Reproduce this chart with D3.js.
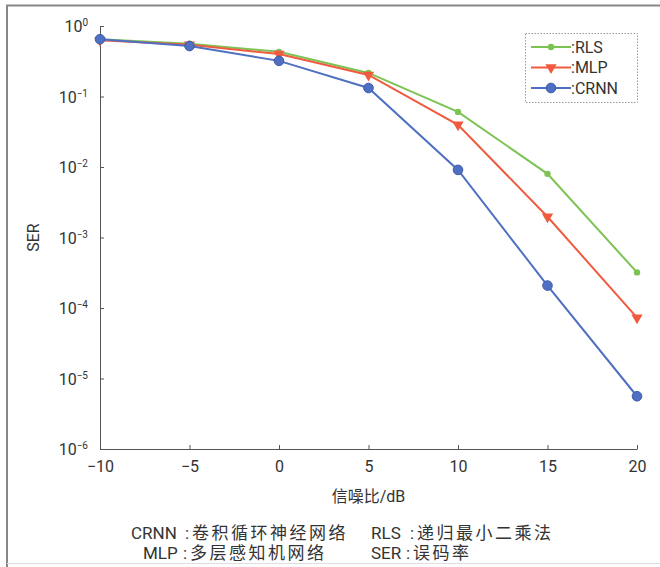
<!DOCTYPE html>
<html>
<head>
<meta charset="utf-8">
<script src="https://cdn.jsdelivr.net/npm/d3@7/dist/d3.min.js"></script>
<style>
  body { margin: 0; background: #fff; }
  svg text { font-family: Roboto, "Noto Sans CJK SC", sans-serif; fill: #333; }
</style>
</head>
<body>
<script>
//chart data
var snr = [-10, -5, 0, 5, 10, 15, 20];
var serRLS = [0.65, 0.56, 0.43, 0.216, 0.0605, 0.0080, 0.00032];
var serMLP = [0.63, 0.54, 0.40, 0.202, 0.0396, 0.00197, 0.000073];
var serCRNN = [0.65, 0.52, 0.32, 0.132, 0.0091, 0.000208, 0.0000056];
var seriesNames = ["RLS", "MLP", "CRNN"];
var xTicks = [-10, -5, 0, 5, 10, 15, 20];
var yExponents = [0, -1, -2, -3, -4, -5, -6];
var captionLines = [
    [["CRNN", "卷积循环神经网络"], ["RLS", "递归最小二乘法"]],
    [["MLP", "多层感知机网络"], ["SER", "误码率"]]
];

(function(){
    var width = 660, height = 567;
    var colors = {RLS: "#7cc353", MLP: "#f05a3f", CRNN: "#4f70c2"};
    var values = {RLS: serRLS, MLP: serMLP, CRNN: serCRNN};

    var svg = d3.select("body").append("svg")
        .attr("width", width)
        .attr("height", height);

    //outer frame
    svg.append("path")
        .attr("d", "M7,567V5.5H660")
        .attr("fill", "none")
        .attr("stroke", "#888")
        .attr("stroke-width", 2);
    svg.append("line")
        .attr("x1", 7).attr("x2", 660)
        .attr("y1", 563.5).attr("y2", 563.5)
        .attr("stroke", "#ddd");

    var x = d3.scaleLinear().domain([-10, 20]).range([100, 637]);
    var y = d3.scaleLog().domain([1e-6, 1]).range([449, 26]);

    //x axis
    var gx = svg.append("g")
        .attr("transform", "translate(0," + y(1e-6) + ")")
        .call(d3.axisBottom(x).tickValues(xTicks).tickSize(-4).tickSizeOuter(0)
            .tickFormat(function(d){ return d < 0 ? "\u2212" + Math.abs(d) : d; }));
    gx.selectAll("text").attr("y", 12).attr("dy", "0.71em").style("font-size", "16px").attr("fill", "#333");

    //y axis
    var gy = svg.append("g")
        .attr("transform", "translate(" + x(-10) + ",0)")
        .call(d3.axisLeft(y).tickValues(yExponents.map(function(e){ return Math.pow(10, e); }))
            .tickSize(-4).tickSizeOuter(0).tickFormat(function(){ return ""; }));
    gy.selectAll(".tick text").remove();
    gy.selectAll(".tick").each(function(d){
        var t = d3.select(this).append("text")
            .attr("x", -12)
            .attr("dy", "0.35em")
            .attr("text-anchor", "end")
            .style("font-size", "16px");
        t.append("tspan").text("10");
        t.append("tspan").attr("dy", "-0.6em").style("font-size", "10px")
            .text(String(Math.round(Math.log10(d))).replace("-", "\u2212"));
    });
    svg.selectAll(".domain, .tick line").attr("stroke", "#555");

    //axis titles
    svg.append("text")
        .attr("x", (x(-10) + x(20)) / 2)
        .attr("y", 502)
        .attr("text-anchor", "middle")
        .style("font-size", "16px")
        .text("信噪比/dB");
    svg.append("text")
        .attr("transform", "translate(39," + y(1e-3) + ") rotate(-90)")
        .attr("text-anchor", "middle")
        .style("font-size", "16px")
        .text("SER");

    //lines and markers
    var line = d3.line()
        .x(function(d, i){ return x(snr[i]); })
        .y(function(d){ return y(d); });

    function drawMarker(g, name, cx, cy){
        if (name === "RLS"){
            g.append("circle").attr("cx", cx).attr("cy", cy).attr("r", 3.2)
                .attr("fill", colors[name]);
        } else if (name === "MLP"){
            g.append("path")
                .attr("d", d3.symbol().type(d3.symbolTriangle).size(55))
                .attr("transform", "translate(" + cx + "," + cy + ") rotate(180)")
                .attr("fill", colors[name]);
        } else {
            g.append("circle").attr("cx", cx).attr("cy", cy).attr("r", 4.8)
                .attr("fill", colors[name]).attr("stroke", "#3c5aa8").attr("stroke-width", 1);
        }
    }

    seriesNames.forEach(function(name){
        var g = svg.append("g").attr("class", "series " + name);
        g.append("path")
            .datum(values[name])
            .attr("d", line)
            .attr("fill", "none")
            .attr("stroke", colors[name])
            .attr("stroke-width", 2);
        values[name].forEach(function(v, i){
            drawMarker(g, name, x(snr[i]), y(v));
        });
    });

    //legend
    var legend = svg.append("g");
    legend.append("rect")
        .attr("x", 525.5).attr("y", 33.5)
        .attr("width", 112).attr("height", 69)
        .attr("fill", "#fff")
        .attr("stroke", "#999")
        .attr("stroke-dasharray", "1.5,1.5");
    seriesNames.forEach(function(name, i){
        var ly = 47 + i * 20.5;
        legend.append("line")
            .attr("x1", 531).attr("x2", 571)
            .attr("y1", ly).attr("y2", ly)
            .attr("stroke", colors[name]).attr("stroke-width", 2);
        drawMarker(legend, name, 551, ly);
        legend.append("text")
            .attr("x", 571).attr("y", ly).attr("dy", "0.35em")
            .style("font-size", "16px")
            .text(":" + name);
    });

    //caption: [abbrev x, colon x, chinese x] per cell
    var captionPos = [
        [[131, 185, 192], [371, 410, 417]],
        [[143, 183, 190], [371, 406, 413]]
    ];
    captionLines.forEach(function(row, r){
        var cy = 533 + r * 20;
        row.forEach(function(item, c){
            var p = captionPos[r][c];
            svg.append("text")
                .attr("x", p[0]).attr("y", cy).attr("dy", "0.35em")
                .style("font-size", "17px")
                .text(item[0]);
            svg.append("text")
                .attr("x", p[1]).attr("y", cy).attr("dy", "0.35em")
                .style("font-size", "17px")
                .text(":");
            svg.append("text")
                .attr("x", p[2]).attr("y", cy).attr("dy", "0.35em")
                .style("font-size", "17px")
                .style("letter-spacing", "2.5px")
                .text(item[1]);
        });
    });
})();
</script>
</body>
</html>
